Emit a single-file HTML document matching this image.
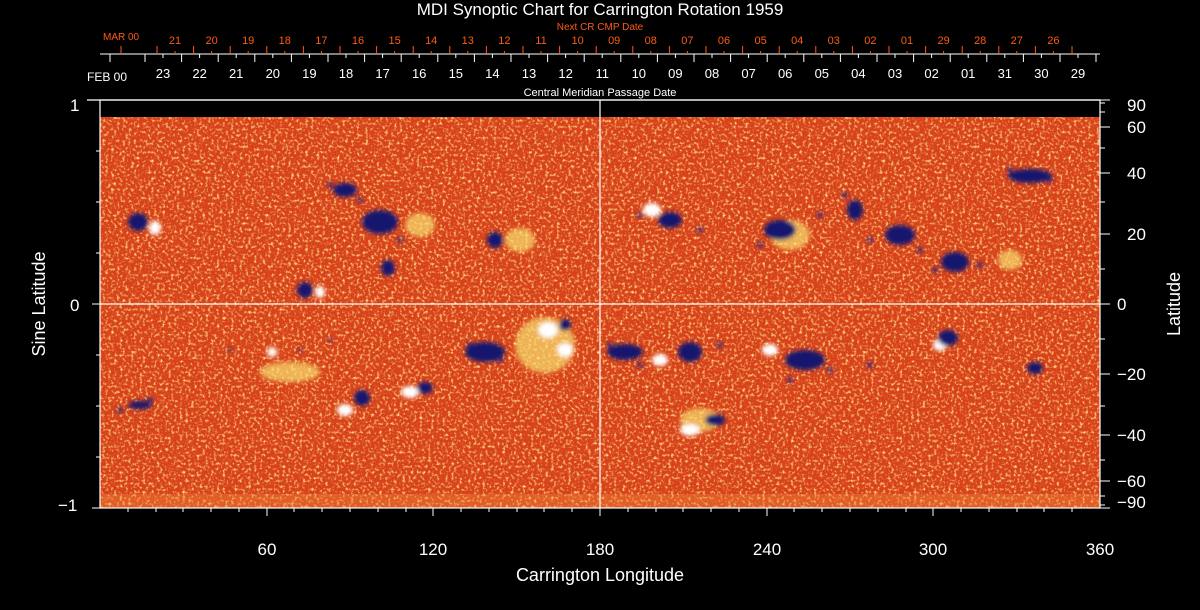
<!DOCTYPE html>
<html><head><style>
html,body{margin:0;padding:0;background:#000;}
body{position:relative;width:1200px;height:610px;overflow:hidden;font-family:"Liberation Sans",sans-serif;}
svg{display:block;position:absolute;left:0;top:0;}
.t{position:absolute;color:#fff;white-space:nowrap;line-height:1;}
.c{transform:translateX(-50%);}
.w{font-size:13px;top:67px;}
.o{font-size:11px;top:36px;color:#ff5a14;}
.b{font-size:17px;}
</style></head><body>
<svg width="1200" height="610" viewBox="0 0 1200 610" xmlns="http://www.w3.org/2000/svg">
<defs>
<filter id="n" x="0" y="0" width="100%" height="100%">
<feTurbulence type="fractalNoise" baseFrequency="0.35" numOctaves="2" seed="3" result="t"/>
<feColorMatrix in="t" type="matrix" values="0 0 0 0 1  0 0 0 0 0.72  0 0 0 0 0.25  3 0 0 0 -1.5"/>
</filter>
<filter id="b"><feGaussianBlur stdDeviation="2"/></filter>
</defs>
<rect width="1200" height="610" fill="#000"/>
<rect x="100" y="117" width="1000" height="391" fill="#d8421a"/>
<rect x="100" y="117" width="1000" height="391" filter="url(#n)"/>
<rect x="100" y="494" width="1000" height="14" fill="#f08a40" opacity="0.35"/>
<g filter="url(#b)">
<g fill="#f8e070" opacity="0.7">
<ellipse cx="545" cy="345" rx="30" ry="28"/>
<ellipse cx="520" cy="240" rx="15" ry="12"/>
<ellipse cx="700" cy="420" rx="20" ry="12"/>
<ellipse cx="790" cy="235" rx="20" ry="15"/>
<ellipse cx="290" cy="372" rx="30" ry="10"/>
<ellipse cx="420" cy="225" rx="15" ry="12"/>
<ellipse cx="1010" cy="260" rx="12" ry="10"/>
</g>
<g fill="#fff">
<ellipse cx="155" cy="228" rx="6" ry="7"/>
<ellipse cx="320" cy="292" rx="5" ry="6"/>
<ellipse cx="652" cy="210" rx="9" ry="7"/>
<ellipse cx="548" cy="330" rx="10" ry="8"/>
<ellipse cx="565" cy="350" rx="8" ry="7"/>
<ellipse cx="690" cy="430" rx="10" ry="6"/>
<ellipse cx="345" cy="410" rx="8" ry="6"/>
<ellipse cx="410" cy="392" rx="9" ry="6"/>
<ellipse cx="272" cy="352" rx="5" ry="5"/>
<ellipse cx="770" cy="350" rx="8" ry="6"/>
<ellipse cx="940" cy="345" rx="7" ry="6"/>
<ellipse cx="660" cy="360" rx="8" ry="6"/>
</g>
<g fill="#12126e">
<ellipse cx="138" cy="222" rx="10" ry="9"/>
<ellipse cx="380" cy="222" rx="18" ry="12"/>
<ellipse cx="345" cy="190" rx="12" ry="7"/>
<ellipse cx="388" cy="268" rx="7" ry="8"/>
<ellipse cx="305" cy="290" rx="8" ry="8"/>
<ellipse cx="362" cy="398" rx="8" ry="8"/>
<ellipse cx="425" cy="388" rx="8" ry="6"/>
<ellipse cx="485" cy="352" rx="20" ry="10"/>
<ellipse cx="495" cy="240" rx="8" ry="8"/>
<ellipse cx="565" cy="325" rx="6" ry="6"/>
<ellipse cx="625" cy="352" rx="18" ry="8"/>
<ellipse cx="670" cy="220" rx="12" ry="8"/>
<ellipse cx="690" cy="352" rx="12" ry="10"/>
<ellipse cx="780" cy="230" rx="16" ry="10"/>
<ellipse cx="805" cy="360" rx="20" ry="10"/>
<ellipse cx="900" cy="235" rx="15" ry="10"/>
<ellipse cx="948" cy="338" rx="10" ry="8"/>
<ellipse cx="955" cy="262" rx="14" ry="10"/>
<ellipse cx="1030" cy="176" rx="22" ry="7"/>
<ellipse cx="1035" cy="368" rx="8" ry="6"/>
<ellipse cx="715" cy="420" rx="10" ry="6"/>
<ellipse cx="140" cy="405" rx="12" ry="4"/>
<ellipse cx="855" cy="210" rx="8" ry="10"/>
</g>
<g fill="#1a1a80" opacity="0.8">
<circle cx="330" cy="185" r="3"/><circle cx="360" cy="200" r="3"/><circle cx="400" cy="240" r="3"/><circle cx="470" cy="345" r="3"/><circle cx="500" cy="360" r="3"/><circle cx="610" cy="345" r="3"/><circle cx="640" cy="365" r="3"/><circle cx="720" cy="345" r="3"/><circle cx="760" cy="245" r="3"/><circle cx="820" cy="215" r="3"/><circle cx="830" cy="370" r="3"/><circle cx="870" cy="240" r="3"/><circle cx="920" cy="250" r="3"/><circle cx="935" cy="270" r="3"/><circle cx="980" cy="265" r="3"/><circle cx="1050" cy="180" r="3"/><circle cx="1010" cy="170" r="3"/><circle cx="790" cy="380" r="3"/><circle cx="870" cy="365" r="3"/><circle cx="120" cy="410" r="3"/><circle cx="150" cy="400" r="3"/><circle cx="230" cy="350" r="2"/><circle cx="300" cy="350" r="2"/><circle cx="330" cy="340" r="2"/><circle cx="640" cy="215" r="3"/><circle cx="700" cy="230" r="3"/><circle cx="845" cy="195" r="3"/>
</g>
</g>
<g stroke="#fff" stroke-width="1.2" fill="none">
<rect x="100" y="100" width="1000" height="408"/>
<line x1="100" y1="304" x2="1100" y2="304"/>
<line x1="600" y1="100" x2="600" y2="508"/>
<line x1="87" y1="100" x2="1100" y2="100"/>
</g>
<g stroke="#fff" stroke-width="1" fill="none">
<path d="M92 100H100M92 304H100M92 508H100M96 151H100M96 202H100M96 253H100M96 355H100M96 406H100M96 457H100"/>
<path d="M1100 100H1110M1100 127H1110M1100 173H1110M1100 234H1110M1100 304H1110M1100 374H1110M1100 435H1110M1100 481H1110M1100 508H1110M1100 103H1105M1100 112H1105M1100 148H1105M1100 202H1105M1100 269H1105M1100 339H1105M1100 406H1105M1100 460H1105M1100 496H1105M1100 505H1105"/>
<path d="M128 508V512M156 508V512M183 508V512M211 508V512M239 508V512M267 508V516M294 508V512M322 508V512M350 508V512M378 508V512M406 508V512M433 508V516M461 508V512M489 508V512M517 508V512M544 508V512M572 508V512M600 508V516M628 508V512M656 508V512M683 508V512M711 508V512M739 508V512M767 508V516M794 508V512M822 508V512M850 508V512M878 508V512M906 508V512M933 508V516M961 508V512M989 508V512M1017 508V512M1044 508V512M1072 508V512"/>
<line x1="100" y1="54" x2="1100" y2="54"/>
<path d="M110 54V62M145 54V62M163 54V58M181.6 54V62M199.6 54V58M218.2 54V62M236.2 54V58M254.8 54V62M272.8 54V58M291.4 54V62M309.4 54V58M328 54V62M346 54V58M364.6 54V62M382.6 54V58M401.2 54V62M419.2 54V58M437.8 54V62M455.8 54V58M474.4 54V62M492.4 54V58M511 54V62M529 54V58M547.6 54V62M565.6 54V58M584.2 54V62M602.2 54V58M620.8 54V62M638.8 54V58M657.4 54V62M675.4 54V58M694 54V62M712 54V58M730.6 54V62M748.6 54V58M767.2 54V62M785.2 54V58M803.8 54V62M821.8 54V58M840.4 54V62M858.4 54V58M877 54V62M895 54V58M913.6 54V62M931.6 54V58M950.2 54V62M968.2 54V58M986.8 54V62M1004.8 54V58M1023.4 54V62M1041.4 54V58M1060 54V62M1078 54V58M1096 54V62"/>
</g>
<path stroke="#ff5a14" stroke-width="1" fill="none" d="M121 54V46M157 54V46M175 54V51M193.6 54V46M211.6 54V51M230.2 54V46M248.2 54V51M266.8 54V46M284.8 54V51M303.4 54V46M321.4 54V51M340 54V46M358 54V51M376.6 54V46M394.6 54V51M413.2 54V46M431.2 54V51M449.8 54V46M467.8 54V51M486.4 54V46M504.4 54V51M523 54V46M541 54V51M559.6 54V46M577.6 54V51M596.2 54V46M614.2 54V51M632.8 54V46M650.8 54V51M669.4 54V46M687.4 54V51M706 54V46M724 54V51M742.6 54V46M760.6 54V51M779.2 54V46M797.2 54V51M815.8 54V46M833.8 54V51M852.4 54V46M870.4 54V51M889 54V46M907 54V51M925.6 54V46M943.6 54V51M962.2 54V46M980.2 54V51M998.8 54V46M1016.8 54V51M1035.4 54V46M1053.4 54V51M1072 54V46"/>
</svg>

<div class="t c" style="left:600px;top:1px;font-size:17px;">MDI Synoptic Chart for Carrington Rotation 1959</div>
<div class="t c" style="left:600px;top:23px;font-size:10px;color:#ff5a14;">Next CR CMP Date</div>
<div class="t" style="left:103px;top:33px;font-size:10px;color:#ff5a14;">MAR 00</div>
<div class="t" style="left:87px;top:71px;font-size:12px;">FEB 00</div>
<div class="t c" style="left:600px;top:88px;font-size:11px;">Central Meridian Passage Date</div>

<div class="t c w" style="left:163px">23</div><div class="t c w" style="left:199.6px">22</div><div class="t c w" style="left:236.2px">21</div><div class="t c w" style="left:272.8px">20</div><div class="t c w" style="left:309.4px">19</div><div class="t c w" style="left:346px">18</div><div class="t c w" style="left:382.6px">17</div><div class="t c w" style="left:419.2px">16</div><div class="t c w" style="left:455.8px">15</div><div class="t c w" style="left:492.4px">14</div><div class="t c w" style="left:529px">13</div><div class="t c w" style="left:565.6px">12</div><div class="t c w" style="left:602.2px">11</div><div class="t c w" style="left:638.8px">10</div><div class="t c w" style="left:675.4px">09</div><div class="t c w" style="left:712px">08</div><div class="t c w" style="left:748.6px">07</div><div class="t c w" style="left:785.2px">06</div><div class="t c w" style="left:821.8px">05</div><div class="t c w" style="left:858.4px">04</div><div class="t c w" style="left:895px">03</div><div class="t c w" style="left:931.6px">02</div><div class="t c w" style="left:968.2px">01</div><div class="t c w" style="left:1004.8px">31</div><div class="t c w" style="left:1041.4px">30</div><div class="t c w" style="left:1078px">29</div>

<div class="t c o" style="left:175px">21</div><div class="t c o" style="left:211.6px">20</div><div class="t c o" style="left:248.2px">19</div><div class="t c o" style="left:284.8px">18</div><div class="t c o" style="left:321.4px">17</div><div class="t c o" style="left:358px">16</div><div class="t c o" style="left:394.6px">15</div><div class="t c o" style="left:431.2px">14</div><div class="t c o" style="left:467.8px">13</div><div class="t c o" style="left:504.4px">12</div><div class="t c o" style="left:541px">11</div><div class="t c o" style="left:577.6px">10</div><div class="t c o" style="left:614.2px">09</div><div class="t c o" style="left:650.8px">08</div><div class="t c o" style="left:687.4px">07</div><div class="t c o" style="left:724px">06</div><div class="t c o" style="left:760.6px">05</div><div class="t c o" style="left:797.2px">04</div><div class="t c o" style="left:833.8px">03</div><div class="t c o" style="left:870.4px">02</div><div class="t c o" style="left:907px">01</div><div class="t c o" style="left:943.6px">29</div><div class="t c o" style="left:980.2px">28</div><div class="t c o" style="left:1016.8px">27</div><div class="t c o" style="left:1053.4px">26</div>

<div class="t b" style="left:70px;top:97px;">1</div>
<div class="t b" style="left:70px;top:297px;">0</div>
<div class="t b" style="left:58px;top:497px;">−1</div>
<div class="t b c" style="left:267px;top:541px;">60</div>
<div class="t b c" style="left:433px;top:541px;">120</div>
<div class="t b c" style="left:600px;top:541px;">180</div>
<div class="t b c" style="left:767px;top:541px;">240</div>
<div class="t b c" style="left:933px;top:541px;">300</div>
<div class="t b c" style="left:1100px;top:541px;">360</div>
<div class="t b" style="left:1127px;top:97px;">90</div>
<div class="t b" style="left:1127px;top:119px;">60</div>
<div class="t b" style="left:1127px;top:165px;">40</div>
<div class="t b" style="left:1127px;top:226px;">20</div>
<div class="t b" style="left:1117px;top:296px;">0</div>
<div class="t b" style="left:1117px;top:366px;">−20</div>
<div class="t b" style="left:1117px;top:427px;">−40</div>
<div class="t b" style="left:1117px;top:473px;">−60</div>
<div class="t b" style="left:1117px;top:494px;">−90</div>
<div class="t c" style="left:600px;top:566px;font-size:18px;">Carrington Longitude</div>
<div class="t" style="left:39px;top:304px;font-size:18px;transform:translate(-50%,-50%) rotate(-90deg);">Sine Latitude</div>
<div class="t" style="left:1174px;top:304px;font-size:18px;transform:translate(-50%,-50%) rotate(-90deg);">Latitude</div>
</body></html>
